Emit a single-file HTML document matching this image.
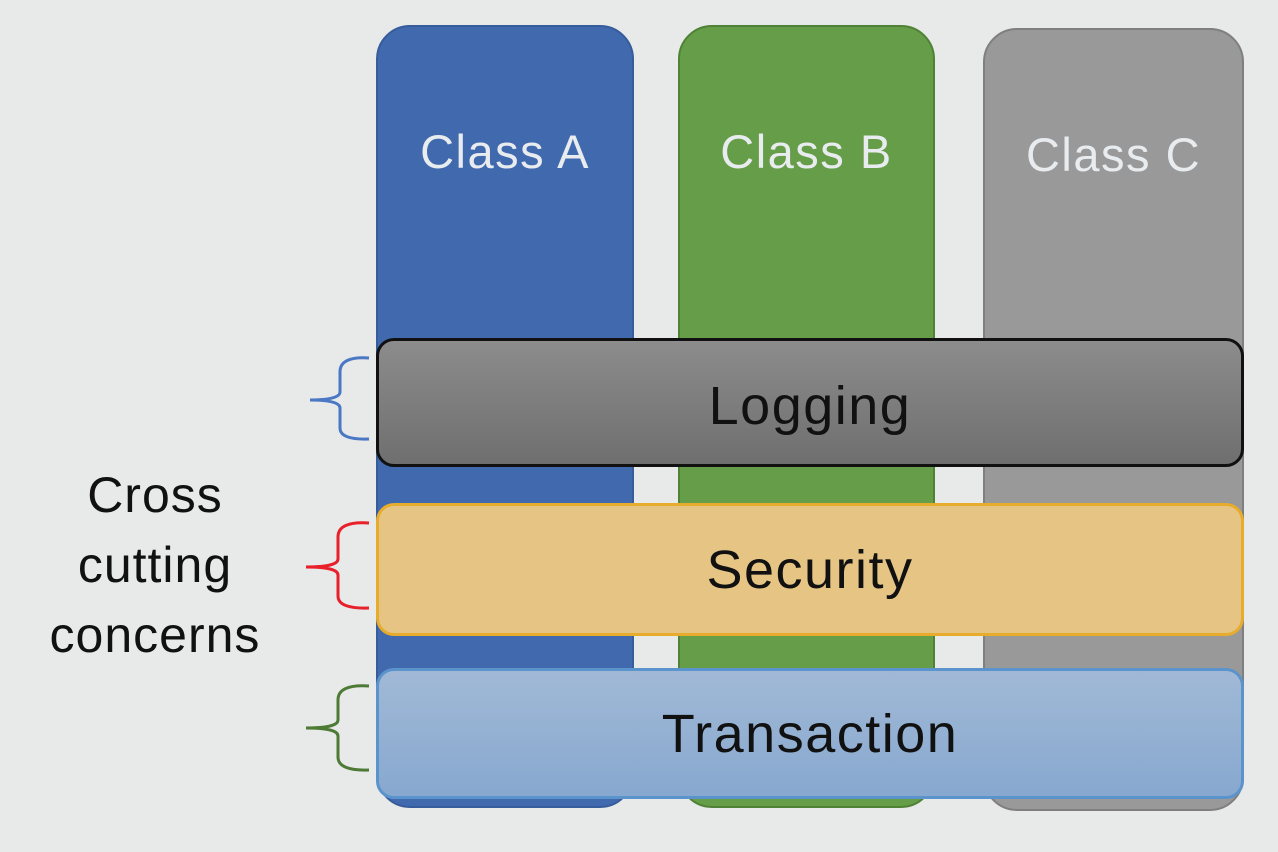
<!DOCTYPE html>
<html><head><meta charset="utf-8"><style>
body{margin:0;width:1278px;height:852px;background:#e8e9e9;position:relative;overflow:hidden;font-family:"Liberation Sans","DejaVu Sans",sans-serif}
.col{position:absolute;border-radius:34px;box-sizing:border-box}
.col span{position:absolute;left:0;right:0;top:97px;text-align:center;color:#e9ecef;font-size:47px;letter-spacing:1.5px}
.band{position:absolute;left:376px;width:868px;box-sizing:border-box;border-radius:18px;display:flex;align-items:center;justify-content:center;font-size:54px;color:#111;letter-spacing:1.5px}
.lbl{position:absolute;left:20px;width:270px;text-align:center;font-size:50px;line-height:70px;top:460px;color:#111;letter-spacing:1px}
</style></head><body>
<div class="col" style="left:376px;top:25px;width:258px;height:783px;background:#4169ae;border:2px solid #365c9c"><span>Class A</span></div>
<div class="col" style="left:678px;top:25px;width:257px;height:783px;background:#659d48;border:2px solid #4f8235"><span>Class B</span></div>
<div class="col" style="left:983px;top:28px;width:261px;height:783px;background:#999;border:2px solid #7f7f7f"><span>Class C</span></div>
<div class="band" style="top:338px;height:129px;background:linear-gradient(#8c8c8c,#6f6f6f);border:3px solid #111;padding-top:6px">Logging</div>
<div class="band" style="top:503px;height:133px;background:#e6c584;border:3px solid #e8ac2c">Security</div>
<div class="band" style="top:668px;height:131px;background:linear-gradient(#a1b9d6,#87a8cf);border:3px solid #5b93cc">Transaction</div>
<div class="lbl">Cross<br>cutting<br>concerns</div>
<svg width="1278" height="852" style="position:absolute;left:0;top:0" fill="none" stroke-width="3">
<path d="M369 358 Q340 356 340 372 L340 392 Q340 400 310 400 Q340 400 340 408 L340 428 Q340 440 369 439" stroke="#4a78c4"/>
<path d="M369 523 Q338 521 338 537 L338 559 Q338 567 306 567 Q338 567 338 575 L338 596 Q338 609 369 608" stroke="#e8202a"/>
<path d="M369 686 Q338 684 338 700 L338 720 Q338 728 306 728 Q338 728 338 736 L338 757 Q338 771 369 770" stroke="#4d7a35"/>
</svg>
</body></html>
